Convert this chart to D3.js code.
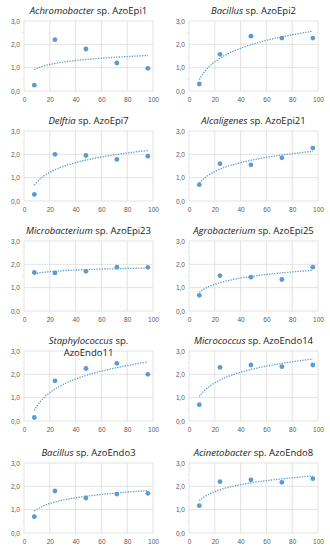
<!DOCTYPE html>
<html>
<head>
<meta charset="utf-8">
<script src="https://cdn.jsdelivr.net/npm/d3@7"></script>
<style>
  body { margin: 0; background: #fff; }
  svg { display: block; font-family: "Open Sans", "Liberation Sans", sans-serif; }
  .tick text { fill: #595959; font-size: 6.5px; }
  .axis path, .axis line { stroke: none; }
</style>
</head>
<body>
<svg width="330" height="550"></svg>
<script>
// Data
const hours = [8, 24, 48, 72, 96];
const genera = ["Achromobacter", "Bacillus", "Delftia", "Alcaligenes", "Microbacterium",
                "Agrobacterium", "Staphylococcus", "Micrococcus", "Bacillus", "Acinetobacter"];
const strains = ["AzoEpi1", "AzoEpi2", "AzoEpi7", "AzoEpi21", "AzoEpi23",
                 "AzoEpi25", "AzoEndo11", "AzoEndo14", "AzoEndo3", "AzoEndo8"];
const azoEpi1   = [0.25, 2.2, 1.8, 1.2, 0.97];
const azoEpi2   = [0.3, 1.57, 2.35, 2.27, 2.27];
const azoEpi7   = [0.28, 2.0, 1.95, 1.78, 1.92];
const azoEpi21  = [0.7, 1.6, 1.55, 1.85, 2.27];
const azoEpi23  = [1.65, 1.63, 1.7, 1.88, 1.87];
const azoEpi25  = [0.67, 1.52, 1.45, 1.35, 1.88];
const azoEndo11 = [0.15, 1.72, 2.25, 2.47, 2.0];
const azoEndo14 = [0.7, 2.3, 2.4, 2.33, 2.4];
const azoEndo3  = [0.7, 1.8, 1.5, 1.67, 1.7];
const azoEndo8  = [1.17, 2.2, 2.28, 2.17, 2.33];
const xTicks = [0, 20, 40, 60, 80, 100];
const yTicks = [0, 1, 2, 3];

const series = [azoEpi1, azoEpi2, azoEpi7, azoEpi21, azoEpi23,
                azoEpi25, azoEndo11, azoEndo14, azoEndo3, azoEndo8];

const blue = "#5b9bd5";
const colX = [0, 165];
const rowY = [0, 110, 220, 330, 442];
const margin = {top: 21, left: 24};
const width = 129, height = 70;

const svg = d3.select("svg");

// Scales (shared)
const xScale = d3.scaleLinear().domain([0, 100]).range([0, width]);
const yScale = d3.scaleLinear().domain([0, 3]).range([height, 0]);
const fmt = d => d3.format(".1f")(d).replace(".", ",");

// log trendline, least squares y = a ln(x) + b
function logFit(xs, ys) {
  const lx = xs.map(Math.log);
  const mx = d3.mean(lx), my = d3.mean(ys);
  const sxy = d3.sum(lx, (v, i) => (v - mx) * (ys[i] - my));
  const sxx = d3.sum(lx, v => (v - mx) * (v - mx));
  const a = sxy / sxx;
  return x => a * Math.log(x) + (my - a * mx);
}

series.forEach(function(vals, i) {
  const g = svg.append("g")
      .attr("transform", "translate(" + (colX[i % 2] + margin.left) + "," + (rowY[Math.floor(i / 2)] + margin.top) + ")");

  // Gridlines
  g.append("g").selectAll("line").data(yTicks).enter().append("line")
      .attr("x1", 0).attr("x2", width)
      .attr("y1", d => yScale(d)).attr("y2", d => yScale(d))
      .attr("stroke", "#d9d9d9").attr("stroke-width", 0.75);
  g.append("g").selectAll("line").data(xTicks).enter().append("line")
      .attr("y1", 0).attr("y2", height)
      .attr("x1", d => xScale(d)).attr("x2", d => xScale(d))
      .attr("stroke", "#d9d9d9").attr("stroke-width", 0.75);
  // minor ticks on y axis
  g.append("g").selectAll("line").data([0.5, 1.5, 2.5]).enter().append("line")
      .attr("x1", -2).attr("x2", 0)
      .attr("y1", d => yScale(d)).attr("y2", d => yScale(d))
      .attr("stroke", "#e3e3e3").attr("stroke-width", 0.75);

  // Axes
  g.append("g")
      .attr("class", "axis")
      .attr("transform", "translate(0," + (height + 3) + ")")
      .call(d3.axisBottom(xScale).tickValues(xTicks).tickSize(0).tickPadding(3));
  g.append("g")
      .attr("class", "axis")
      .attr("transform", "translate(-3,0)")
      .call(d3.axisLeft(yScale).tickValues(yTicks).tickFormat(fmt).tickSize(0).tickPadding(1));

  // Trendline
  const f = logFit(hours, vals);
  const xs = d3.range(hours[0], hours[hours.length - 1] + 0.5, 1);
  g.append("path")
      .datum(xs)
      .attr("fill", "none")
      .attr("stroke", blue)
      .attr("stroke-width", 1.3)
      .attr("stroke-dasharray", "1.3,1.3")
      .attr("d", d3.line().x(d => xScale(d)).y(d => yScale(f(d))));

  // Points
  g.selectAll("circle").data(vals).enter().append("circle")
      .attr("cx", (d, j) => xScale(hours[j]))
      .attr("cy", d => yScale(d))
      .attr("r", 2.4)
      .attr("fill", blue);

  // Title
  const cx = width / 2;
  if (genera[i] === "Staphylococcus") {
    const t = g.append("text").attr("x", cx).attr("y", -7)
        .attr("text-anchor", "middle").attr("font-size", 9.5).attr("fill", "#222");
    t.append("tspan").attr("font-style", "italic").text(genera[i]);
    t.append("tspan").text(" sp.");
    g.append("text").attr("x", cx).attr("y", 5)
        .attr("text-anchor", "middle").attr("font-size", 9.5).attr("fill", "#222")
        .text(strains[i]);
  } else {
    const t = g.append("text").attr("x", cx).attr("y", -7)
        .attr("text-anchor", "middle").attr("font-size", 9.5).attr("fill", "#222");
    t.append("tspan").attr("font-style", "italic").text(genera[i]);
    t.append("tspan").text(" sp. " + strains[i]);
  }
});
</script>
</body>
</html>
